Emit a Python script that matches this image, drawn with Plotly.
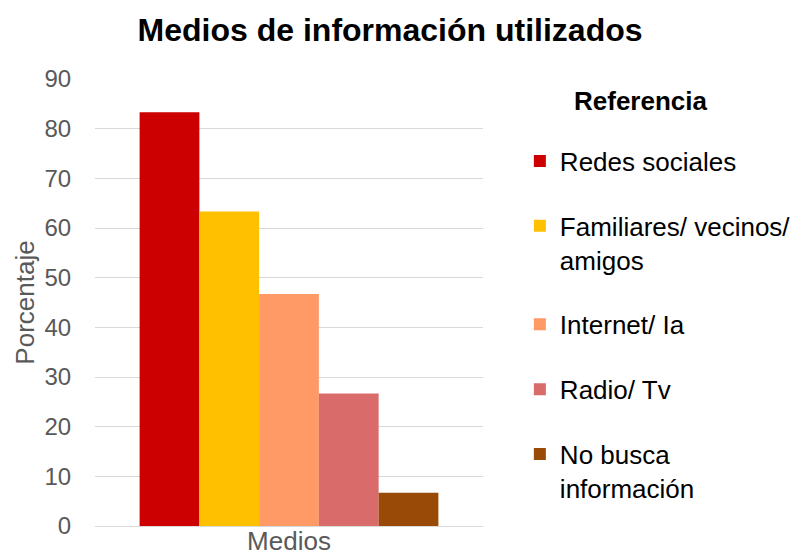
import plotly.graph_objects as go

# Datos
categoria = ["Medios"]
referencias = ["Redes sociales", "Familiares/ vecinos/<br>amigos", "Internet/ Ia",
               "Radio/ Tv", "No busca<br>información"]
porcentajes = [83.3, 63.3, 46.7, 26.7, 6.7]
colores = ["#CC0000", "#FFC000", "#FF9966", "#D96B6B", "#994A06"]

fuente = "Arial, Liberation Sans, sans-serif"

fig = go.Figure()
for nombre, valor, color in zip(referencias, porcentajes, colores):
    fig.add_trace(go.Bar(x=categoria, y=[valor], name=nombre, legendgroup=nombre,
                         marker=dict(color=color, line=dict(width=0))))

# la página añade 8 px de margen, la figura se reduce para caber
fig.update_layout(
    width=791, height=549,
    paper_bgcolor="white", plot_bgcolor="white",
    margin=dict(l=87, r=316, t=71, b=31, autoexpand=False),
    barmode="group", bargap=0.23, bargroupgap=0,
    font=dict(family=fuente, color="#595959"),
    title=dict(text="<b>Medios de información utilizados</b>",
               font=dict(family=fuente, size=32, color="black"),
               x=0.483, xref="container", xanchor="center",
               y=0.96, yref="container", yanchor="middle"),
    legend=dict(font=dict(family=fuente, size=26, color="black"),
                x=1.095, xanchor="left", y=0.869, yanchor="top",
                valign="top", tracegroupgap=28, bgcolor="rgba(0,0,0,0)"),
    showlegend=True,
    annotations=[dict(text="<b>Referencia</b>", xref="paper", yref="paper",
                      x=1.405, y=0.95, xanchor="center", yanchor="middle",
                      showarrow=False,
                      font=dict(family=fuente, size=26, color="black"))],
)

fig.update_xaxes(automargin=False, showgrid=False, showline=False, ticks="",
                 ticklabelstandoff=-3,
                 tickfont=dict(size=26, color="#595959"))
fig.update_yaxes(automargin=False, range=[0, 90], dtick=10,
                 showgrid=True, gridcolor="#D9D9D9", gridwidth=1,
                 zeroline=True, zerolinecolor="#D9D9D9", zerolinewidth=1,
                 ticks="outside", ticklen=18, tickcolor="rgba(0,0,0,0)",
                 tickfont=dict(size=24, color="#595959"),
                 title=dict(text="Porcentaje", standoff=2,
                            font=dict(size=26, color="#595959")))

fig.write_html("out.html")
